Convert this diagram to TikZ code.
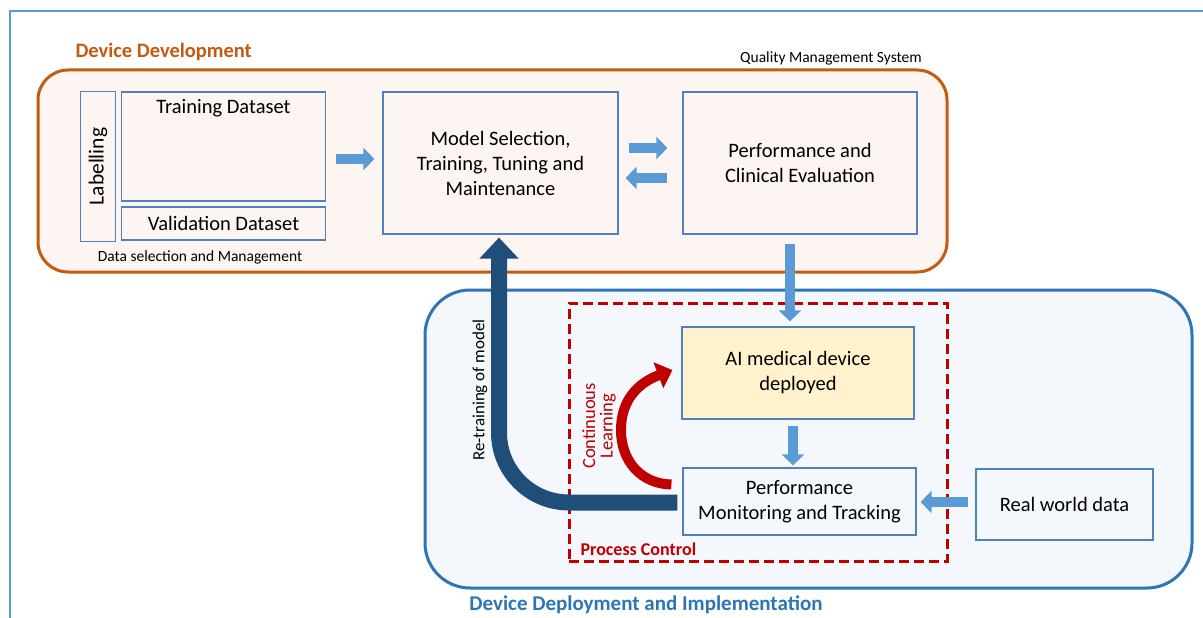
\documentclass[tikz,border=0pt]{standalone}
\usepackage{fontspec}
\setmainfont{Carlito}
\usetikzlibrary{arrows.meta,calc}
\definecolor{orng}{HTML}{C55A11}
\definecolor{orngfill}{HTML}{FDF5F2}
\definecolor{boxblue}{HTML}{4F81BD}
\definecolor{depblue}{HTML}{2E75B6}
\definecolor{depfill}{HTML}{F4F8FC}
\definecolor{pcred}{HTML}{C00000}
\definecolor{aifill}{HTML}{FFF2CC}
\definecolor{darkblue}{HTML}{1F4E79}
\definecolor{arrblue}{HTML}{5B9BD5}
\definecolor{frameblue}{HTML}{5B9BD5}
\tikzset{
  box/.style={draw=boxblue, line width=1.2pt, inner sep=0pt, align=center,
    font=\fontsize{20.5}{25}\selectfont},
  blockarrow/.style={arrblue, line width=10pt, -{Triangle[length=11pt,width=22pt]}},
  smalltxt/.style={font=\fontsize{15.5}{18}\selectfont},
}
\begin{document}
\begin{tikzpicture}[x=1pt,y=-1pt]
\useasboundingbox (0,0) rectangle (1203,618);
\fill[white] (0,0) rectangle (1203,618);
\draw[frameblue, line width=2pt] (10,618) -- (10,11) -- (1203,11);

% containers
\node[draw=orng, fill=orngfill, line width=3pt, rounded corners=30pt,
  minimum width=909, minimum height=202] (dev) at (492.5,171) {};
\node[draw=depblue, fill=depfill, line width=3pt, rounded corners=45pt,
  minimum width=767, minimum height=298] (dep) at (808.5,439) {};
\node[draw=pcred, line width=3pt, dash pattern=on 10pt off 5pt,
  minimum width=378, minimum height=258] (pc) at (758,432) {};

% titles
\node[anchor=west, text=orng, font=\fontsize{20.5}{24}\selectfont\bfseries] (devtitle) at (72,52) {Device Development};
\node[smalltxt] (qms) at (831,58) {Quality Management System};
\node[smalltxt] (dsm) at (200,257) {Data selection and Management};
\node[text=depblue, font=\fontsize{21}{24}\selectfont\bfseries] (deptitle) at (646,605) {Device Deployment and Implementation};
\node[anchor=west, text=pcred, font=\fontsize{18}{20}\selectfont\bfseries] (pctitle) at (577,549) {Process Control};

% boxes
\node[box, rotate=90, minimum width=150, minimum height=35, font=\fontsize{21.5}{25}\selectfont] (lab) at (98,166.5) {Labelling};
\node[box, minimum width=204, minimum height=109,
  label={[anchor=north, font=\fontsize{20.5}{25}\selectfont, yshift=-4pt]north:Training Dataset}] (train) at (223.5,146.5) {};
\node[box, minimum width=204, minimum height=33] (val) at (223.5,223.5) {Validation Dataset};
\node[box, minimum width=235, minimum height=142] (model) at (500.5,163) {Model Selection,\\Training, Tuning and\\Maintenance};
\node[box, minimum width=234, minimum height=142] (perf) at (800,163) {Performance and\\Clinical Evaluation};
\node[box, fill=aifill, minimum width=232, minimum height=92] (ai) at (798,373) {AI medical device\\deployed};
\node[box, fill=depfill, minimum width=233, minimum height=67] (mon) at (799.5,501.5) {Performance\\Monitoring and Tracking};
\node[box, fill=depfill, minimum width=177, minimum height=71] (real) at (1064.5,504.5) {Real world data};

% block arrows
\draw[blockarrow] ($(train.east)+(10,12.5)$) -- ($(model.west)+(-8,-4)$);
\draw[blockarrow] ($(model.east)+(10,-15)$) -- ($(perf.west)+(-15,-15)$);
\draw[blockarrow] ($(perf.west)+(-15,15)$) -- ($(model.east)+(7,15)$);
\draw[blockarrow] ($(perf.south)+(-10,9)$) -- ($(ai.north)+(-8,-5)$);
\draw[blockarrow] ($(ai.south)+(-5,6)$) -- ($(mon.north)+(-6.5,-2)$);
\draw[blockarrow] ($(real.west)+(-7,-2.5)$) -- ($(mon.east)+(4,0.5)$);

% re-training arrow
\coordinate (rtstart) at ($(mon.west)+(-5,1)$);
\draw[darkblue, line width=16pt, rounded corners=70pt, -{Triangle[length=21pt,width=38pt]}]
  (rtstart) -| ($(model.south)+(-1.5,3)$);
\node[rotate=90, font=\fontsize{17}{20}\selectfont] (rtlabel) at (480,390) {Re-training of model};

% continuous learning arrow
\coordinate (clstart) at ($(mon.west)+(-11,-17)$);
\draw[pcred, line width=10pt, -{Triangle[length=15pt,width=27pt]}]
  (clstart) .. controls (642,484) and (621,462) .. (621,430)
  .. controls (621,400) and (638,383) .. ($(ai.west)+(-9,-3)$);
\node[rotate=90, align=center, text=pcred, font=\fontsize{18.5}{17.5}\selectfont] (cllabel) at (599,426) {Continuous\\Learning};
\end{tikzpicture}
\end{document}
